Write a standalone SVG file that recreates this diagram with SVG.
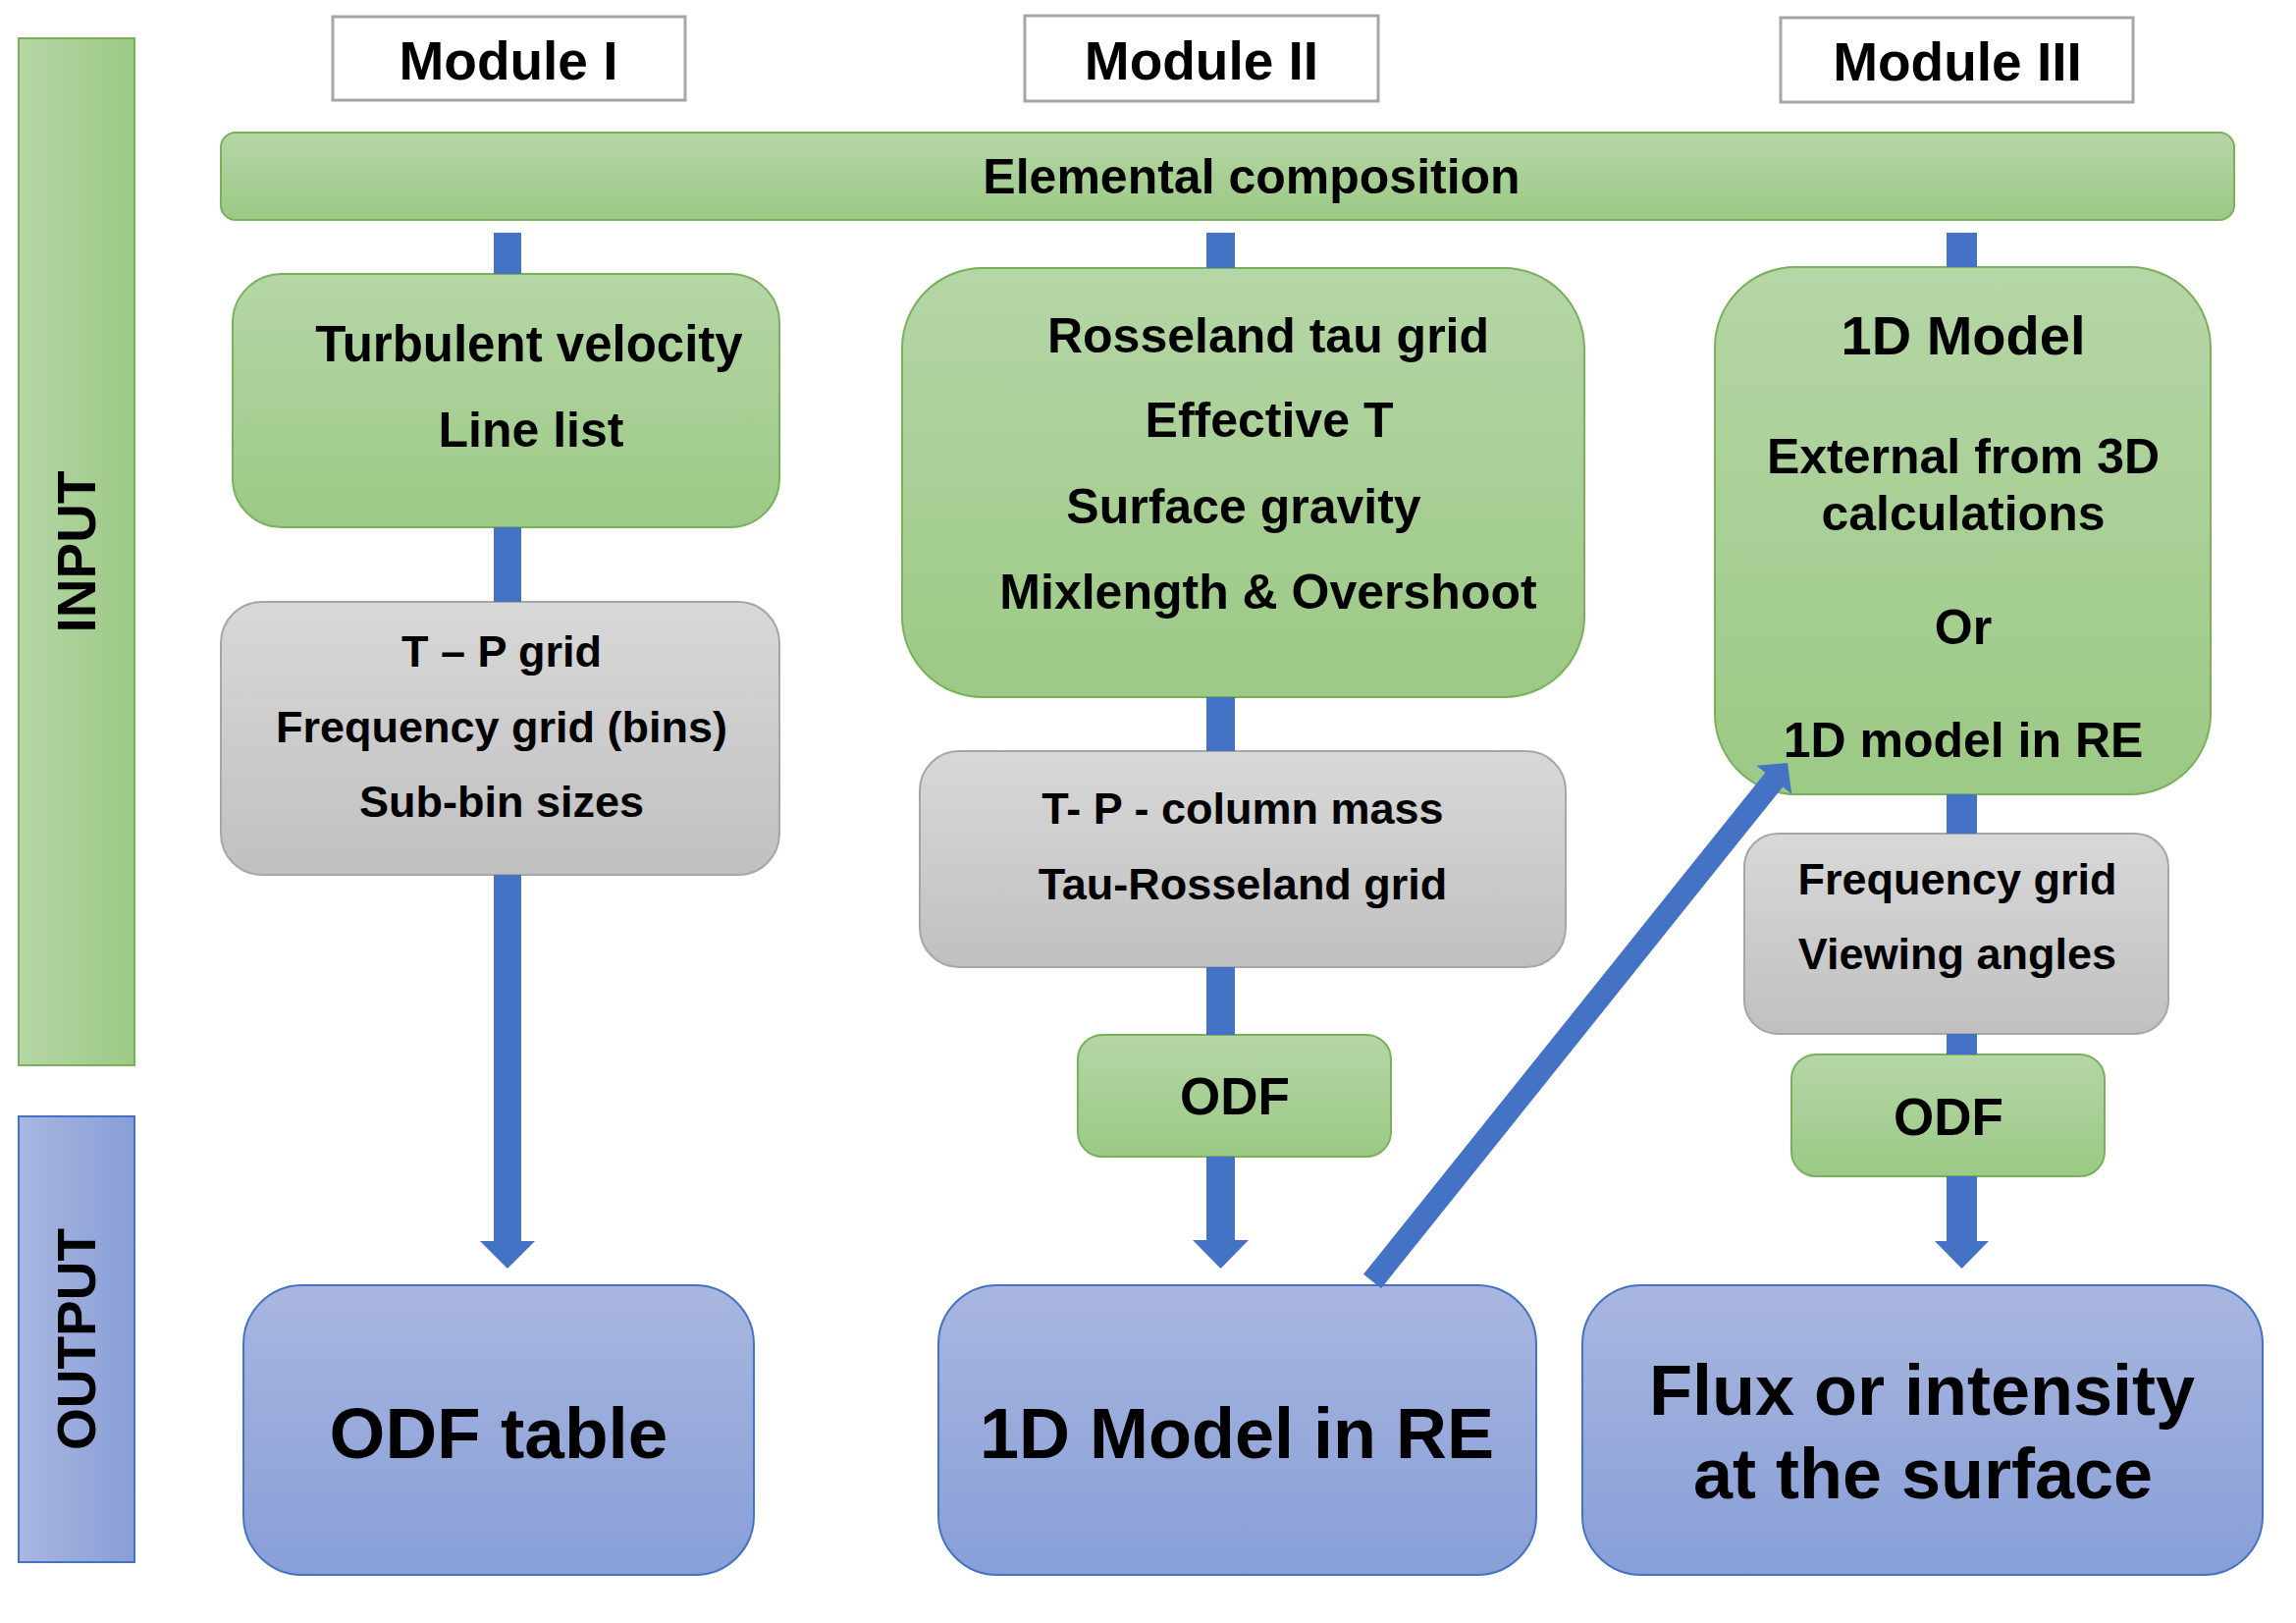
<svg xmlns="http://www.w3.org/2000/svg" width="2339" height="1653" viewBox="0 0 2339 1653">
<defs>
<linearGradient id="gGreen" x1="0" y1="0" x2="0" y2="1"><stop offset="0" stop-color="#b5d6a6"/><stop offset="1" stop-color="#9cc985"/></linearGradient>
<linearGradient id="gGreenH" x1="0" y1="0" x2="1" y2="0"><stop offset="0" stop-color="#b5d6a6"/><stop offset="1" stop-color="#9cc985"/></linearGradient>
<linearGradient id="gGray" x1="0" y1="0" x2="0" y2="1"><stop offset="0" stop-color="#d8d8d8"/><stop offset="1" stop-color="#c0c0c0"/></linearGradient>
<linearGradient id="gBlue" x1="0" y1="0" x2="0" y2="1"><stop offset="0" stop-color="#a9b7e0"/><stop offset="1" stop-color="#879ed7"/></linearGradient>
<linearGradient id="gBlueH" x1="0" y1="0" x2="1" y2="0"><stop offset="0" stop-color="#a9b7e0"/><stop offset="1" stop-color="#879ed7"/></linearGradient>
</defs>
<style>
text{font-family:"Liberation Sans",Arial,sans-serif;font-weight:bold;fill:#000;text-anchor:middle}
.green{fill:url(#gGreen);stroke:#7ab05a;stroke-width:2}
.gray{fill:url(#gGray);stroke:#a6a6a6;stroke-width:2}
.blue{fill:url(#gBlue);stroke:#4472c4;stroke-width:2}
.mod{fill:#fff;stroke:#a6a6a6;stroke-width:3}
.t50{font-size:50px}
.t45{font-size:45px}
.t54{font-size:55px}
.t53{font-size:53px}
.t71{font-size:72px}
.seg{stroke:#4472c4}
.head{fill:#4472c4}
</style>
<rect width="2339" height="1653" fill="#fff"/>

<g id="input-bar">
<rect x="19" y="39" width="118" height="1046" fill="url(#gGreenH)" stroke="#7ab05a" stroke-width="2"/>
<text transform="translate(97,562) rotate(-90)" style="font-size:55px">INPUT</text>
</g>
<g id="output-bar">
<rect x="19" y="1137" width="118" height="454" fill="url(#gBlueH)" stroke="#4472c4" stroke-width="2"/>
<text transform="translate(97,1364) rotate(-90)" style="font-size:55px">OUTPUT</text>
</g>

<g id="module1"><rect class="mod" x="339" y="17" width="359" height="85"/><text class="t54" x="518" y="81">Module I</text></g>
<g id="module2"><rect class="mod" x="1044" y="16" width="360" height="87"/><text class="t54" x="1224" y="81">Module II</text></g>
<g id="module3"><rect class="mod" x="1814" y="18" width="359" height="86"/><text class="t54" x="1994" y="82">Module III</text></g>

<g id="elemental"><rect class="green" x="225" y="135" width="2051" height="89" rx="15"/><text class="t50" x="1275" y="197">Elemental composition</text></g>

<g id="turbulent"><rect class="green" x="237" y="279" width="557" height="258" rx="50"/>
<text class="t50" x="539" y="368" style="font-size:51px">Turbulent velocity</text>
<text class="t50" x="541" y="455">Line list</text></g>

<g id="grid1"><rect class="gray" x="225" y="613" width="569" height="278" rx="42"/>
<text class="t45" x="511" y="679">T – P grid</text>
<text class="t45" x="511" y="756">Frequency grid (bins)</text>
<text class="t45" x="511" y="832">Sub-bin sizes</text></g>

<g id="odftable"><rect class="blue" x="248" y="1309" width="520" height="295" rx="60"/>
<text class="t71" x="508" y="1485" style="font-size:73px">ODF table</text></g>

<g id="params2"><rect class="green" x="919" y="273" width="695" height="437" rx="82"/>
<text class="t50" x="1292" y="359">Rosseland tau grid</text>
<text class="t50" x="1293" y="445">Effective T</text>
<text class="t50" x="1267" y="533">Surface gravity</text>
<text class="t50" x="1292" y="620">Mixlength &amp; Overshoot</text></g>

<g id="grid2"><rect class="gray" x="937" y="765" width="658" height="220" rx="40"/>
<text class="t45" x="1266" y="839">T- P - column mass</text>
<text class="t45" x="1266" y="916">Tau-Rosseland grid</text></g>

<g id="odf2"><rect class="green" x="1098" y="1054" width="319" height="124" rx="25"/>
<text class="t53" x="1258" y="1135">ODF</text></g>

<g id="model1d"><rect class="blue" x="956" y="1309" width="609" height="295" rx="60"/>
<text class="t71" x="1260" y="1485">1D Model in RE</text></g>

<g id="model3"><rect class="green" x="1747" y="272" width="505" height="537" rx="82"/>
<text class="t50" x="2000" y="361" style="font-size:56px">1D Model</text>
<text class="t50" x="2000" y="482">External from 3D</text>
<text class="t50" x="2000" y="540">calculations</text>
<text class="t50" x="2000" y="656">Or</text>
<text class="t50" x="2000" y="771">1D model in RE</text></g>

<g id="grid3"><rect class="gray" x="1777" y="849" width="432" height="204" rx="34"/>
<text class="t45" x="1994" y="911">Frequency grid</text>
<text class="t45" x="1994" y="987">Viewing angles</text></g>

<g id="odf3"><rect class="green" x="1825" y="1074" width="319" height="124" rx="25"/>
<text class="t53" x="1985" y="1156">ODF</text></g>

<g id="flux"><rect class="blue" x="1612" y="1309" width="693" height="295" rx="60"/>
<text class="t71" x="1958" y="1441">Flux or intensity</text>
<text class="t71" x="1959" y="1526">at the surface</text></g>

<g id="connectors">
<line class="seg" x1="517" y1="237" x2="517" y2="279" stroke-width="28"/>
<line class="seg" x1="517" y1="537" x2="517" y2="613" stroke-width="28"/>
<path class="head" d="M503,891 H531 V1264 H545 L517,1292 L489,1264 H503 Z"/>
<line class="seg" x1="1243.5" y1="237" x2="1243.5" y2="273" stroke-width="29"/>
<line class="seg" x1="1243.5" y1="710" x2="1243.5" y2="765" stroke-width="29"/>
<line class="seg" x1="1243.5" y1="985" x2="1243.5" y2="1054" stroke-width="29"/>
<path class="head" d="M1229,1178 H1258 V1263 H1272 L1243.5,1292 L1215,1263 H1229 Z"/>
<line class="seg" x1="1998.5" y1="237" x2="1998.5" y2="272" stroke-width="31"/>
<line class="seg" x1="1998.5" y1="809" x2="1998.5" y2="849" stroke-width="31"/>
<line class="seg" x1="1998.5" y1="1053" x2="1998.5" y2="1074" stroke-width="31"/>
<path class="head" d="M1983,1198 H2014 V1264 H2026 L1998.5,1292 L1971,1264 H1983 Z"/>
<path class="head" d="M1407,1312.2 L1816.2,801.4 L1825.2,808.6 L1821,777 L1789.3,779.8 L1798.3,787 L1389,1297.8 Z"/>
</g>
</svg>
